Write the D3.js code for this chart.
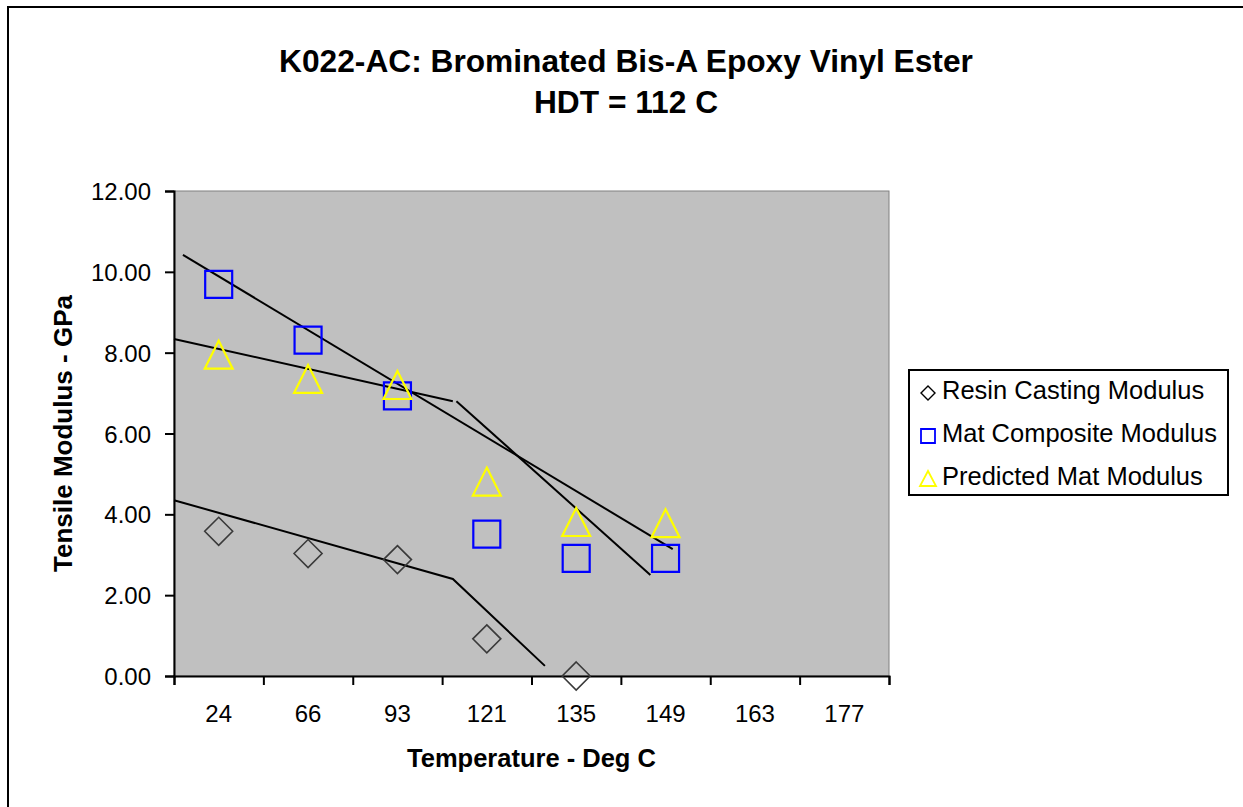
<!DOCTYPE html>
<meta charset="utf-8">
<style>
body {
  margin: 0;
  background: #fff;
  font-family: "Liberation Sans", Arial, sans-serif;
}
.axis path, .axis line {
  stroke: #000;
}
</style>
<body>
<svg width="1243" height="807"></svg>
<script src="https://cdn.jsdelivr.net/npm/d3@7"></script>
<script>
// categories (temperature, deg C)
var temps = ["24", "66", "93", "121", "135", "149", "163", "177"];

// series values, GPa
var resinCasting = [3.58, 3.03, 2.88, 0.92, 0.00];
var matComposite = [9.69, 8.31, 6.93, 3.51, 2.91, 2.91];
var predictedMat = [7.95, 7.35, 7.20, 4.81, 3.81, 3.78];

// hand drawn trend lines: [category position, GPa]
var matTrend = [[0.10, 10.42], [5.58, 3.14]];
var predTrendA = [[0, 8.34], [3.12, 6.80]];
var predTrendB = [[3.16, 6.80], [5.33, 2.50]];
var resinTrend = [[0, 4.35], [3.12, 2.40], [4.15, 0.25]];

var yTicks = [0, 2, 4, 6, 8, 10, 12];

var svg = d3.select("svg"),
    margin = {top: 191, right: 354, bottom: 131, left: 174},
    width = +svg.attr("width") - margin.left - margin.right,
    height = +svg.attr("height") - margin.top - margin.bottom;

// chart frame (cropped on the right / bottom)
svg.append("rect")
    .attr("x", 8).attr("y", 7)
    .attr("width", 1300).attr("height", 900)
    .attr("fill", "#fff")
    .attr("stroke", "#000")
    .attr("stroke-width", 2);

var x = d3.scaleBand().domain(temps).range([0, width]),
    xPos = d3.scaleLinear().domain([0, temps.length]).range([0, width]),
    y = d3.scaleLinear().domain([0, 12]).range([height, 0]);

var g = svg.append("g")
    .attr("transform", "translate(" + margin.left + "," + margin.top + ")");

g.append("rect")
    .attr("width", width)
    .attr("height", height)
    .attr("fill", "#c0c0c0")
    .attr("stroke", "#808080")
    .attr("stroke-width", 1);

// y axis
var yAxis = g.append("g")
    .attr("class", "axis")
    .call(d3.axisLeft(y).tickValues(yTicks).tickFormat(d3.format(".2f")).tickSize(9).tickPadding(14));
yAxis.select(".domain").attr("stroke-width", 2);
yAxis.selectAll("line").attr("stroke-width", 2);
yAxis.selectAll("text")
    .style("font-size", "24px")
    .style("font-family", "Liberation Sans, Arial, sans-serif")
    .attr("fill", "#000")
    .attr("dy", "0.36em");

// x axis : ticks between categories
var xTickAxis = g.append("g")
    .attr("class", "axis")
    .attr("transform", "translate(0," + height + ")")
    .call(d3.axisBottom(xPos).tickValues(d3.range(temps.length + 1)).tickSize(9).tickFormat(""));
xTickAxis.select(".domain").attr("stroke-width", 2);
xTickAxis.selectAll("line").attr("stroke-width", 2);

var xLab = g.append("g")
    .attr("transform", "translate(0," + height + ")")
    .call(d3.axisBottom(x).tickSize(0).tickPadding(29));
xLab.select(".domain").remove();
xLab.selectAll("text")
    .style("font-size", "24px")
    .style("font-family", "Liberation Sans, Arial, sans-serif")
    .attr("fill", "#000");

// trend lines
var line = d3.line()
    .x(function(d) { return xPos(d[0]); })
    .y(function(d) { return y(d[1]); });

[matTrend, predTrendA, predTrendB, resinTrend].forEach(function(t) {
  g.append("path")
      .datum(t)
      .attr("d", line)
      .attr("fill", "none")
      .attr("stroke", "#000")
      .attr("stroke-width", 2);
});

// markers
var diamond = "M0,-14L14,0L0,14L-14,0Z",
    square = "M-13.5,-13.5H13.5V13.5H-13.5Z",
    triangle = "M0,-14L14,14H-14Z";

function plot(vals, shape, color, sw) {
  g.selectAll(null)
    .data(vals)
    .enter().append("path")
      .attr("d", shape)
      .attr("transform", function(d, i) {
        return "translate(" + (x(temps[i]) + x.bandwidth() / 2) + "," + y(d) + ")";
      })
      .attr("fill", "none")
      .attr("stroke", color)
      .attr("stroke-width", sw);
}
plot(resinCasting, diamond, "#3a3a3a", 1.6);
plot(matComposite, square, "#0000ff", 2.2);
plot(predictedMat, triangle, "#ffff00", 2.2);

// titles
svg.append("text")
    .attr("x", 626).attr("y", 72)
    .attr("text-anchor", "middle")
    .style("font", "bold 31.7px 'Liberation Sans', Arial, sans-serif")
    .text("K022-AC: Brominated Bis-A Epoxy Vinyl Ester");
svg.append("text")
    .attr("x", 626).attr("y", 113)
    .attr("text-anchor", "middle")
    .style("font", "bold 31.7px 'Liberation Sans', Arial, sans-serif")
    .text("HDT = 112 C");

svg.append("text")
    .attr("x", margin.left + width / 2).attr("y", 767)
    .attr("text-anchor", "middle")
    .style("font", "bold 25.5px 'Liberation Sans', Arial, sans-serif")
    .text("Temperature - Deg C");

svg.append("text")
    .attr("transform", "translate(72," + (margin.top + height / 2) + ") rotate(-90)")
    .attr("text-anchor", "middle")
    .style("font", "bold 26px 'Liberation Sans', Arial, sans-serif")
    .text("Tensile Modulus - GPa");

// legend
var legendItems = [
  {name: "Resin Casting Modulus", shape: "M0,-7L7,0L0,7L-7,0Z", color: "#000", sw: 1.4},
  {name: "Mat Composite Modulus", shape: "M-7,-7H7V7H-7Z", color: "#0000ff", sw: 1.8},
  {name: "Predicted Mat Modulus", shape: "M0,-8L8,7H-8Z", color: "#ffff00", sw: 1.8}
];

var legend = svg.append("g").attr("transform", "translate(909,370)");
legend.append("rect")
    .attr("width", 319).attr("height", 125)
    .attr("fill", "#fff")
    .attr("stroke", "#000")
    .attr("stroke-width", 2);

var li = legend.selectAll(".li")
    .data(legendItems)
    .enter().append("g")
      .attr("transform", function(d, i) { return "translate(0," + (i * 43) + ")"; });
li.append("path")
    .attr("d", function(d) { return d.shape; })
    .attr("transform", "translate(19,23)")
    .attr("fill", "none")
    .attr("stroke", function(d) { return d.color; })
    .attr("stroke-width", function(d) { return d.sw; });
li.append("text")
    .attr("x", 33).attr("y", 29)
    .style("font", "25.5px 'Liberation Sans', Arial, sans-serif")
    .text(function(d) { return d.name; });
</script>
</body>
